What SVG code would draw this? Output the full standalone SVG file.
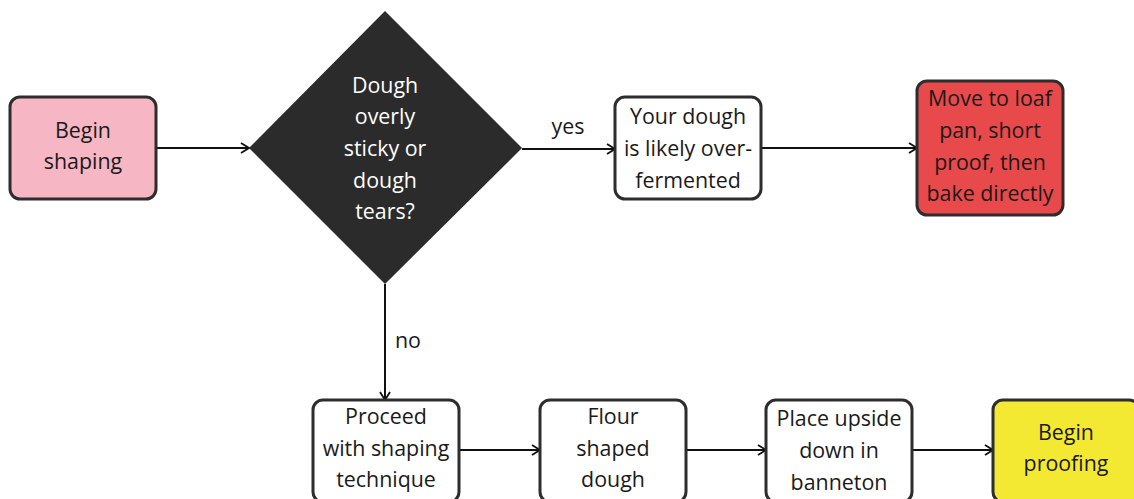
<svg xmlns="http://www.w3.org/2000/svg" width="1134" height="499" viewBox="0 0 1134 499">
<defs>
<marker id="arr" viewBox="0 0 12 12" refX="11" refY="6" markerWidth="12" markerHeight="12" markerUnits="userSpaceOnUse" orient="auto">
<path d="M3,1 L11,6 L3,11" fill="none" stroke="#111" stroke-width="1.8"/>
</marker>
<style>
.box{stroke:#2d2d2d;stroke-width:3}
.t{font-family:"Open Sans","Liberation Sans",sans-serif;font-size:21.4px;fill:#1a1a1a;text-anchor:middle}
.w{fill:#ffffff}
.e{fill:none;stroke:#111;stroke-width:2;marker-end:url(#arr)}
</style>
</defs>
<rect width="1134" height="499" fill="#ffffff"/>
<g id="connectors">
<path class="e" d="M156,148 H249"/>
<path class="e" d="M522,149 H615"/>
<path class="e" d="M761,148 H917"/>
<path class="e" d="M385,284 V400"/>
<path class="e" d="M459,450 H540"/>
<path class="e" d="M686,450 H766"/>
<path class="e" d="M912,450 H993"/>
<text class="t" x="568" y="134">yes</text>
<text class="t" x="408" y="348">no</text>
</g>
<g id="begin-shaping">
<rect class="box" x="10" y="97" width="146" height="102" rx="10" fill="#f6b6c3"/>
<text class="t" x="83" y="138">Begin</text>
<text class="t" x="83" y="169">shaping</text>
</g>
<g id="decision">
<polygon points="385,11 522,148 385,284 249,148" fill="#2b2b2b"/>
<text class="t w" x="385" y="93">Dough</text>
<text class="t w" x="385" y="124">overly</text>
<text class="t w" x="385" y="156">sticky or</text>
<text class="t w" x="385" y="188">dough</text>
<text class="t w" x="385" y="219">tears?</text>
</g>
<g id="over-fermented">
<rect class="box" x="615" y="97" width="146" height="102" rx="10" fill="#ffffff"/>
<text class="t" x="688" y="124">Your dough</text>
<text class="t" x="688" y="156">is likely over-</text>
<text class="t" x="688" y="188">fermented</text>
</g>
<g id="loaf-pan">
<rect class="box" x="917" y="81" width="146" height="134" rx="10" fill="#e8494b"/>
<text class="t" x="990" y="106">Move to loaf</text>
<text class="t" x="990" y="138">pan, short</text>
<text class="t" x="990" y="170">proof, then</text>
<text class="t" x="990" y="201">bake directly</text>
</g>
<g id="proceed">
<rect class="box" x="313" y="400" width="146" height="102" rx="10" fill="#ffffff"/>
<text class="t" x="386" y="424">Proceed</text>
<text class="t" x="386" y="456">with shaping</text>
<text class="t" x="386" y="487">technique</text>
</g>
<g id="flour">
<rect class="box" x="540" y="400" width="146" height="102" rx="10" fill="#ffffff"/>
<text class="t" x="613" y="424">Flour</text>
<text class="t" x="613" y="456">shaped</text>
<text class="t" x="613" y="487">dough</text>
</g>
<g id="banneton">
<rect class="box" x="766" y="400" width="146" height="102" rx="10" fill="#ffffff"/>
<text class="t" x="839" y="426">Place upside</text>
<text class="t" x="839" y="458">down in</text>
<text class="t" x="839" y="490">banneton</text>
</g>
<g id="proofing">
<rect class="box" x="993" y="400" width="146" height="102" rx="10" fill="#f4e932"/>
<text class="t" x="1066" y="440">Begin</text>
<text class="t" x="1066" y="471">proofing</text>
</g>
</svg>
